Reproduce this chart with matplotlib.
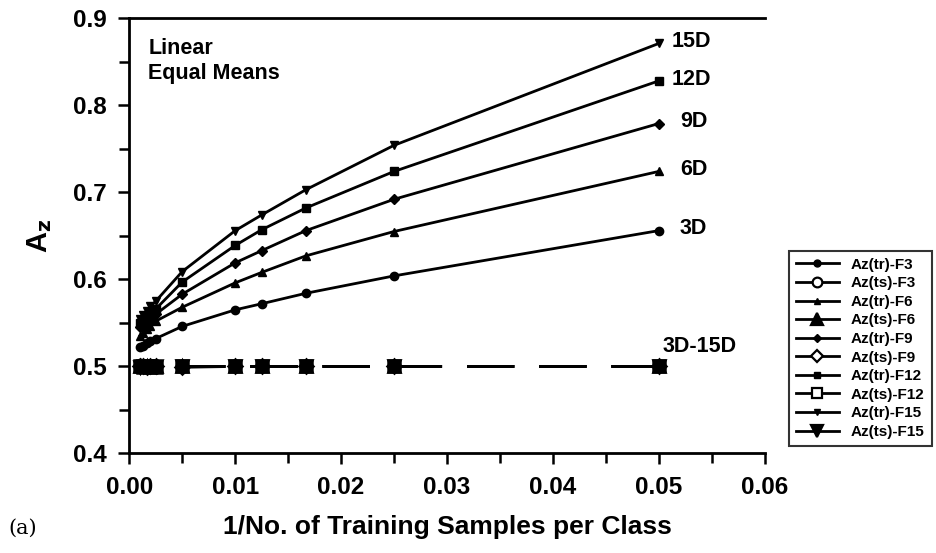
import matplotlib
matplotlib.use('Agg')
import matplotlib.pyplot as plt
from matplotlib.lines import Line2D
from matplotlib.ticker import MultipleLocator

plt.rcParams['font.family'] = ['Liberation Sans', 'DejaVu Sans']

# 1/N training samples per class
x = [0.05, 0.025, 0.01667, 0.0125, 0.01, 0.005, 0.0025, 0.002, 0.001667, 0.00125, 0.001]

# training Az per feature-space dimension
tr_f3 = [0.656, 0.604, 0.584, 0.572, 0.565, 0.546, 0.532, 0.529, 0.527, 0.524, 0.522]
tr_f6 = [0.724, 0.655, 0.627, 0.608, 0.596, 0.568, 0.552, 0.547, 0.543, 0.538, 0.535]
tr_f9 = [0.779, 0.692, 0.656, 0.633, 0.619, 0.583, 0.560, 0.555, 0.551, 0.548, 0.545]
tr_f12 = [0.828, 0.724, 0.682, 0.657, 0.639, 0.597, 0.566, 0.561, 0.557, 0.553, 0.550]
tr_f15 = [0.871, 0.754, 0.703, 0.674, 0.656, 0.609, 0.575, 0.569, 0.564, 0.559, 0.555]

# test Az (all around 0.5)
ts_f3 = [0.500, 0.500, 0.500, 0.500, 0.500, 0.500, 0.500, 0.500, 0.501, 0.500, 0.502]
ts_f6 = [0.500, 0.500, 0.500, 0.500, 0.500, 0.500, 0.500, 0.499, 0.500, 0.501, 0.500]
ts_f9 = [0.500, 0.500, 0.500, 0.500, 0.500, 0.499, 0.500, 0.500, 0.499, 0.500, 0.501]
ts_f12 = [0.500, 0.500, 0.500, 0.500, 0.500, 0.500, 0.499, 0.500, 0.500, 0.499, 0.500]
ts_f15 = [0.500, 0.500, 0.500, 0.500, 0.500, 0.500, 0.500, 0.501, 0.500, 0.500, 0.499]

dim_labels = ['3D', '6D', '9D', '12D', '15D']

tr_series = [tr_f3, tr_f6, tr_f9, tr_f12, tr_f15]
ts_series = [ts_f3, ts_f6, ts_f9, ts_f12, ts_f15]
names = ['F3', 'F6', 'F9', 'F12', 'F15']

tr_markers = ['o', '^', 'D', 's', 'v']
tr_sizes = [6, 6, 5, 6, 6]
ts_markers = ['o', '^', 'D', 's', 'v']
ts_sizes = [8, 9, 7, 8, 9]
ts_fill = ['white', 'black', 'white', 'white', 'black']

fig = plt.figure(figsize=(9.37, 5.53), dpi=100)
ax = fig.add_axes([0.138, 0.180, 0.678, 0.787])

handles = []
for i in range(5):
    ax.plot(x, tr_series[i], color='black', lw=2, marker=tr_markers[i],
            ms=tr_sizes[i], mfc='black', mec='black')
    # overlapping open markers render as solid blobs in the original
    ax.plot(x, ts_series[i], color='black', lw=2, dashes=(17, 9),
            marker=ts_markers[i], ms=ts_sizes[i], mfc='black', mec='black', mew=1.8)
    handles.append(Line2D([], [], color='black', lw=2, marker=tr_markers[i],
                          ms=tr_sizes[i] - 1, mfc='black', mec='black',
                          label='Az(tr)-' + names[i]))
    handles.append(Line2D([], [], color='black', lw=2, marker=ts_markers[i],
                          ms=ts_sizes[i] - 1, mfc=ts_fill[i], mec='black', mew=1.6,
                          label='Az(ts)-' + names[i]))

ax.set_xlim(0, 0.06)
ax.set_ylim(0.4, 0.9)
ax.xaxis.set_major_locator(MultipleLocator(0.01))
ax.xaxis.set_minor_locator(MultipleLocator(0.005))
ax.yaxis.set_major_locator(MultipleLocator(0.1))
ax.yaxis.set_minor_locator(MultipleLocator(0.05))
ax.set_xticklabels([f'{v:.2f}' for v in ax.get_xticks()])
ax.set_yticklabels([f'{v:.1f}' for v in ax.get_yticks()])
ax.tick_params(which='both', direction='out', width=1.8, labelsize=17.5, pad=8)
ax.tick_params(which='major', length=8)
ax.tick_params(which='minor', length=7)
for lab in ax.get_xticklabels() + ax.get_yticklabels():
    lab.set_fontweight('bold')
for side in ['left', 'bottom', 'top']:
    ax.spines[side].set_linewidth(2)
ax.spines['right'].set_visible(False)

ax.set_xlabel('1/No. of Training Samples per Class', fontsize=19, fontweight='bold', labelpad=12)
ax.set_ylabel('A$_\\mathbf{z}$', fontsize=21, fontweight='bold', labelpad=14)

ax.text(0.0018, 0.877, 'Linear\nEqual Means', fontsize=15.5, fontweight='bold',
        va='top', ha='left', linespacing=1.25)

label_y = [0.656, 0.724, 0.779, 0.828, 0.871]
label_dx = [0.002, 0.002, 0.002, 0.0012, 0.0012]
for i in range(5):
    ax.text(x[0] + label_dx[i], label_y[i] + 0.002, dim_labels[i], fontsize=15.5,
            fontweight='bold', va='center', ha='left')
ax.text(0.0504, 0.523, '3D-15D', fontsize=15.5, fontweight='bold', va='center', ha='left')

leg = fig.legend(handles=handles, loc='lower left', bbox_to_anchor=(0.834, 0.180),
                 frameon=True, fancybox=False, edgecolor='black', handlelength=2.8,
                 prop={'weight': 'bold', 'size': 11}, labelspacing=0.3, borderpad=0.45)
leg.get_frame().set_linewidth(1.5)

fig.text(0.009, 0.035, '(a)', fontsize=15, family='DejaVu Serif')

fig.savefig('out.png', dpi=100)
